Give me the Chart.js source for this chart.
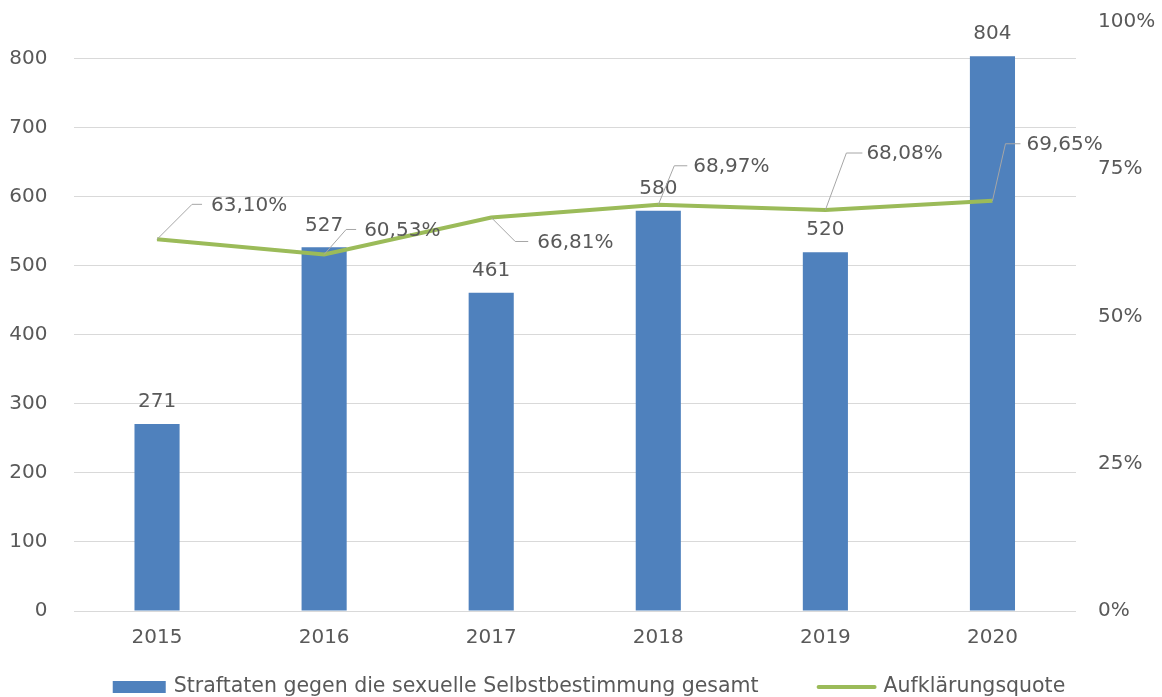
<!DOCTYPE html>
<html>
<head>
<meta charset="utf-8">
<script src="https://cdn.jsdelivr.net/npm/chart.js@4/dist/chart.umd.min.js"></script>
<style>
  html, body { margin: 0; padding: 0; background: #fff; }
  canvas { display: block; }
</style>
</head>
<body>
<canvas id="c" width="1162" height="697"></canvas>
<script>
const years = ['2015', '2016', '2017', '2018', '2019', '2020'];
const offenses = [271, 527, 461, 580, 520, 804];
const clearanceRate = [63.10, 60.53, 66.81, 68.97, 68.08, 69.65];
const leftTicks = [0, 100, 200, 300, 400, 500, 600, 700, 800];
const rightTicks = [0, 25, 50, 75, 100];
const seriesNames = ['Straftaten gegen die sexuelle Selbstbestimmung gesamt', 'Aufklärungsquote'];

const FONT = 'DejaVu Sans';
const FSIZE = 20;
const LEGEND_FSIZE = 20.5;
const TEXT = '#595959';
const BAR_COLOR = '#4F81BD';
const LINE_COLOR = '#9BBB59';

// leader line geometry for line labels: [elbowDx, elbowDy, endDx, textDx, textDy]
const leaderGeom = [
  [35, -35, 45, 54, -34],
  [22, -25, 32, 40, -24],
  [24, 24, 37, 46, 25],
  [16, -39, 29, 35, -38],
  [21, -57, 37, 41, -56],
  [13, -57, 28, 34, -56]
];

const labelPlugin = {
  id: 'labels',
  afterDatasetsDraw(chart) {
    const ctx = chart.ctx;
    ctx.save();
    ctx.font = FSIZE + 'px "' + FONT + '"';
    ctx.fillStyle = TEXT;
    const barMeta = chart.getDatasetMeta(0);
    ctx.textAlign = 'center';
    ctx.textBaseline = 'middle';
    barMeta.data.forEach((el, i) => {
      ctx.fillText(String(offenses[i]), el.x, el.y - 22);
    });
    const lineMeta = chart.getDatasetMeta(1);
    lineMeta.data.forEach((el, i) => {
      const g = leaderGeom[i];
      ctx.strokeStyle = '#A6A6A6';
      ctx.lineWidth = 1;
      ctx.beginPath();
      ctx.moveTo(el.x, el.y);
      ctx.lineTo(el.x + g[0], el.y + g[1]);
      ctx.lineTo(el.x + g[2], el.y + g[1]);
      ctx.stroke();
      ctx.textAlign = 'left';
      ctx.fillText(clearanceRate[i].toFixed(2).replace('.', ',') + '%', el.x + g[3], el.y + g[4]);
    });
    ctx.restore();
  },
  afterDraw(chart) {
    const ctx = chart.ctx;
    ctx.save();
    ctx.font = LEGEND_FSIZE + 'px "' + FONT + '"';
    ctx.fillStyle = TEXT;
    ctx.textBaseline = 'middle';
    ctx.textAlign = 'left';
    const w1 = ctx.measureText(seriesNames[0]).width;
    const w2 = ctx.measureText(seriesNames[1]).width;
    const boxW = 53, gapText = 8, gapItems = 58, lineW = 60, gapText2 = 7;
    const total = boxW + gapText + w1 + gapItems + lineW + gapText2 + w2;
    const cy = 687;
    let x = 589 - total / 2;
    ctx.fillStyle = BAR_COLOR;
    ctx.fillRect(x, cy - 6, boxW, 12);
    x += boxW + gapText;
    ctx.fillStyle = TEXT;
    ctx.fillText(seriesNames[0], x, cy);
    x += w1 + gapItems;
    ctx.strokeStyle = LINE_COLOR;
    ctx.lineWidth = 4;
    ctx.lineCap = 'round';
    ctx.beginPath();
    ctx.moveTo(x + 2, cy);
    ctx.lineTo(x + lineW - 2, cy);
    ctx.stroke();
    x += lineW + gapText2;
    ctx.fillText(seriesNames[1], x, cy);
    ctx.restore();
  }
};

function noPad(scale) {
  scale.paddingTop = 0;
  scale.paddingBottom = 0;
}

new Chart(document.getElementById('c'), {
  type: 'bar',
  data: {
    labels: years,
    datasets: [
      {
        type: 'bar',
        label: seriesNames[0],
        data: offenses,
        yAxisID: 'y',
        backgroundColor: BAR_COLOR,
        borderWidth: 0,
        categoryPercentage: 1,
        barPercentage: 0.27,
        order: 2
      },
      {
        type: 'line',
        label: seriesNames[1],
        data: clearanceRate,
        yAxisID: 'y1',
        borderColor: LINE_COLOR,
        backgroundColor: LINE_COLOR,
        borderWidth: 4,
        pointRadius: 0,
        tension: 0,
        order: 1
      }
    ]
  },
  options: {
    responsive: false,
    animation: false,
    layout: { padding: { top: 22, bottom: 48, left: 0, right: 0 } },
    plugins: {
      tooltip: { enabled: false },
      legend: { display: false }
    },
    scales: {
      x: {
        grid: { display: false, drawTicks: false },
        border: { display: false },
        afterFit(scale) { scale.paddingLeft = 0; scale.paddingRight = 0; scale.height = 38; },
        ticks: { font: { family: FONT, size: FSIZE }, color: TEXT, padding: 15 }
      },
      y: {
        position: 'left',
        min: 0,
        max: 853.5,
        afterBuildTicks(scale) { scale.ticks = leftTicks.map(v => ({ value: v })); },
        afterFit(scale) { scale.width = 73.5; noPad(scale); },
        grid: { color: '#D9D9D9', lineWidth: 1, drawTicks: false },
        border: { display: false },
        ticks: { font: { family: FONT, size: FSIZE }, color: TEXT, padding: 26 }
      },
      y1: {
        position: 'right',
        min: 0,
        max: 100,
        afterBuildTicks(scale) { scale.ticks = rightTicks.map(v => ({ value: v })); },
        afterFit(scale) { scale.width = 86; noPad(scale); },
        grid: { display: false, drawTicks: false },
        border: { display: false },
        ticks: { font: { family: FONT, size: FSIZE }, color: TEXT, padding: 22, callback: v => v + '%' }
      }
    }
  },
  plugins: [labelPlugin]
});
</script>
</body>
</html>
